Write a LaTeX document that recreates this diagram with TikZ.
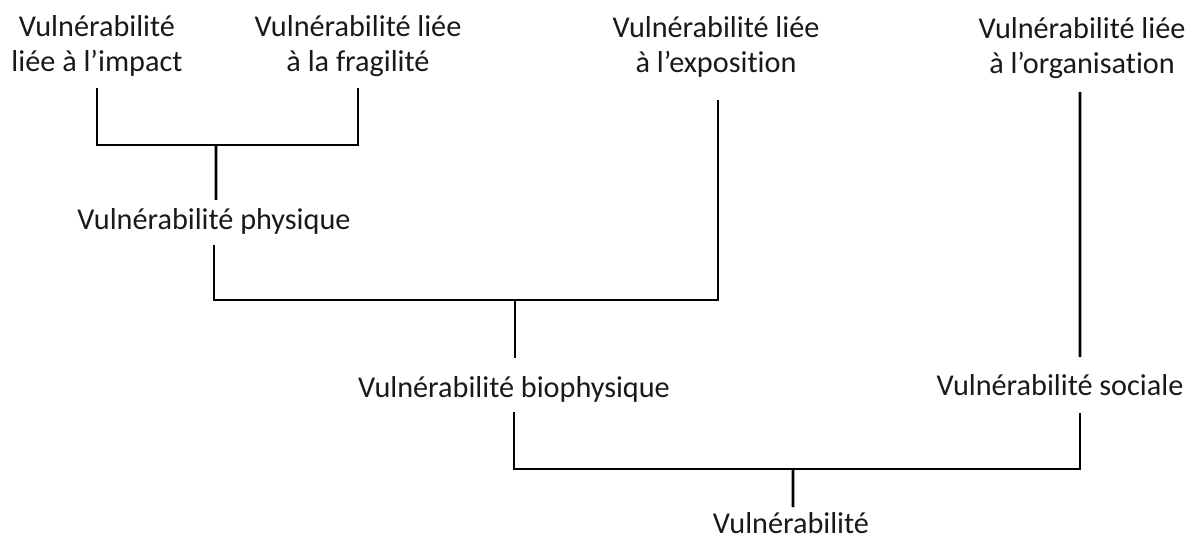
\documentclass[tikz,border=0pt]{standalone}
\usepackage{fontspec}
\setmainfont{Carlito}[Ligatures={NoCommon}]
\begin{document}
\begin{tikzpicture}[x=0.1mm,y=-0.1mm,
  lbl/.style={align=center, inner sep=0pt, anchor=base, text=black!90,
    font=\fontsize{8.6pt}{10.2pt}\selectfont},
  conn/.style={draw=black, line width=0.75pt}]
\useasboundingbox (0,0) rectangle (1198,537);
% labels
\node[lbl] (imp)  at (97,72)   {Vulnérabilité\\liée à l’impact};
\node[lbl] (frag) at (358,72)  {Vulnérabilité liée\\à la fragilité};
\node[lbl] (expo) at (716,73)  {Vulnérabilité liée\\à l’exposition};
\node[lbl] (org)  at (1082,74) {Vulnérabilité liée\\à l’organisation};
\node[lbl] (phys) at (214,230) {Vulnérabilité physique};
\node[lbl] (bio)  at (514,397) {Vulnérabilité biophysique};
\node[lbl] (soc)  at (1060,395){Vulnérabilité sociale};
\node[lbl] (vul)  at (791,533) {Vulnérabilité};
% junctions
\coordinate (j1) at (216,145);
\coordinate (j2) at (515,300);
\coordinate (j3) at (793,469);
% connectors
\draw[conn] ([yshift=-1.6mm]imp.base) -- (imp.base |- j1) -| ([yshift=-1.6mm]frag.base);
\draw[conn] (j1) -- ([xshift=0.2mm,yshift=3mm]phys.base);
\draw[conn] ([yshift=-1.5mm]phys.base) -- (phys.base |- j2) -| ([xshift=0.2mm,yshift=-2.7mm]expo.base);
\draw[conn] (j2) -- ([xshift=0.1mm,yshift=3.9mm]bio.base);
\draw[conn] ([yshift=-1.5mm]bio.base) -- (bio.base |- j3) -| ([xshift=2mm,yshift=-1.8mm]soc.base);
\draw[conn] ([xshift=-0.2mm,yshift=-1.8mm]org.base) -- ([xshift=2mm,yshift=3.8mm]soc.base);
\draw[conn] (j3) -- ([xshift=0.2mm,yshift=2.6mm]vul.base);
\end{tikzpicture}
\end{document}
